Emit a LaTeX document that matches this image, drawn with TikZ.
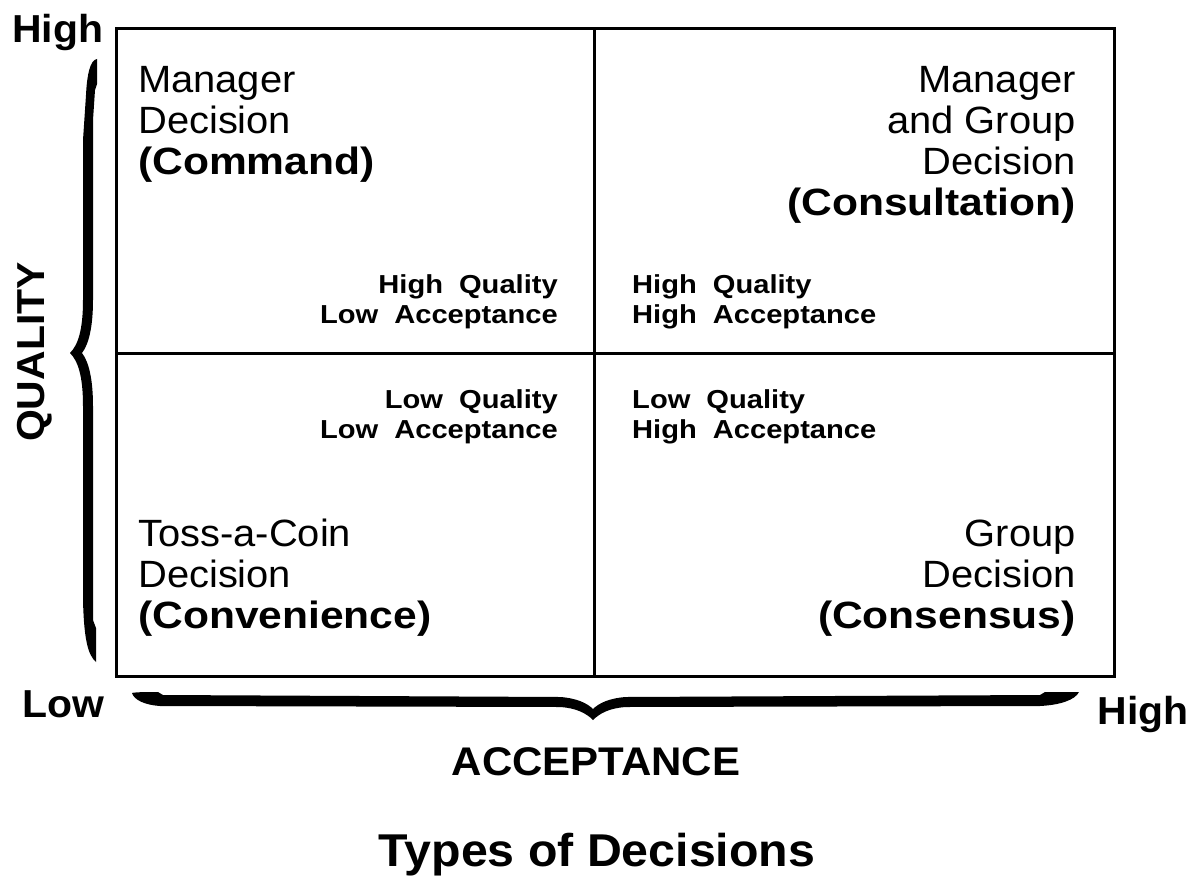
\documentclass[tikz,border=0pt]{standalone}
\usepackage{fontspec}
\setmainfont{Liberation Sans}[FakeStretch=1.05]
\newfontfamily\wbf{Liberation Sans}[FakeStretch=1.12]
\newcommand\wbold[1]{{\wbf\bfseries #1}}
\newcommand\wgap{\hspace*{16pt}}
\begin{document}
\begin{tikzpicture}[x=1pt,y=-1pt,
  big/.style={font=\fontsize{38}{41}\selectfont, inner sep=0pt},
  small/.style={font=\wbf\bfseries\fontsize{26}{29.5}\selectfont, inner sep=0pt},
  axislabel/.style={font=\bfseries\fontsize{39}{44}\selectfont, inner sep=0pt},
  frame/.style={line width=3pt},
  bracefill/.style={fill=black, draw=none}]
\useasboundingbox (0,0) rectangle (1201,875);
% frame
\coordinate (TL) at (116,29);
\coordinate (BR) at (1114,676);
\coordinate (midT) at (594,29);
\coordinate (midB) at (594,676);
\coordinate (midL) at (116,353);
\coordinate (midR) at (1114,353);
\draw[frame] (TL) rectangle (BR);
\draw[frame] (midT) -- (midB);
\draw[frame] (midL) -- (midR);
% quadrant texts (base anchor = baseline of last line)
\node[big, anchor=base west, align=left] (q1) at (138,174) {Manager\\Decision\\\wbold{(Command)}};
\node[big, anchor=base east, align=right] (q2) at (1076,215) {Manager\\and Group\\Decision\\\wbold{(Consultation)}};
\node[big, anchor=base west, align=left] (q3) at (138,628) {Toss-a-Coin\\Decision\\\wbold{(Convenience)}};
\node[big, anchor=base east, align=right] (q4) at (1076,628) {Group\\Decision\\\wbold{(Consensus)}};
% small labels
\node[small, anchor=base east, align=right] (s1) at (558,323) {High\wgap Quality\\Low\wgap Acceptance};
\node[small, anchor=base west, align=left] (s2) at (632,323) {High\wgap Quality\\High\wgap Acceptance};
\node[small, anchor=base east, align=right] (s3) at (558,438) {Low\wgap Quality\\Low\wgap Acceptance};
\node[small, anchor=base west, align=left] (s4) at (632,438) {Low\wgap Quality\\High\wgap Acceptance};
% axis labels
\node[axislabel, anchor=base west] (hiq) at (12,43) {High};
\node[axislabel, anchor=base west] (low) at (22,717) {Low};
\node[axislabel, anchor=base east] (hia) at (1189,724) {High};
\node[axislabel, anchor=base, rotate=90] (qual) at (44,352) {QUALITY};
\node[axislabel, anchor=base] (acc) at (596,775) {\fontsize{40}{44}\selectfont ACCEPTANCE};
\node[font=\bfseries\fontsize{46}{50}\selectfont, inner sep=0pt, anchor=base] (title) at (597,866) {Types of Decisions};
% left brace
\fill[bracefill] (97,59) .. controls (90,60) and (87,75) .. (86,95)
  -- (83,140) -- (83,300) .. controls (83,330) and (78,345) .. (70,353)
  .. controls (78,361) and (83,376) .. (83,406) -- (83,600)
  .. controls (84,640) and (88,655) .. (96,662)
  -- (96,628) -- (93,620) -- (93,406)
  .. controls (93,380) and (89,362) .. (82,353)
  .. controls (89,344) and (93,326) .. (93,300)
  -- (93,120) -- (95,90) -- (97,84) -- cycle;
% bottom brace
\fill[bracefill] (132,693) .. controls (135,692) and (150,692) .. (158,692)
  -- (163,695) -- (560,697)
  .. controls (576,698) and (587,703) .. (593,709)
  .. controls (599,703) and (610,698) .. (626,697)
  -- (1040,695) -- (1045,692) -- (1079,692)
  .. controls (1075,700) and (1060,705) .. (1040,706)
  -- (626,707) .. controls (610,708) and (600,713) .. (593,720)
  .. controls (586,713) and (576,708) .. (560,707)
  -- (160,706) .. controls (145,705) and (134,700) .. (132,693) -- cycle;
\end{tikzpicture}
\end{document}
